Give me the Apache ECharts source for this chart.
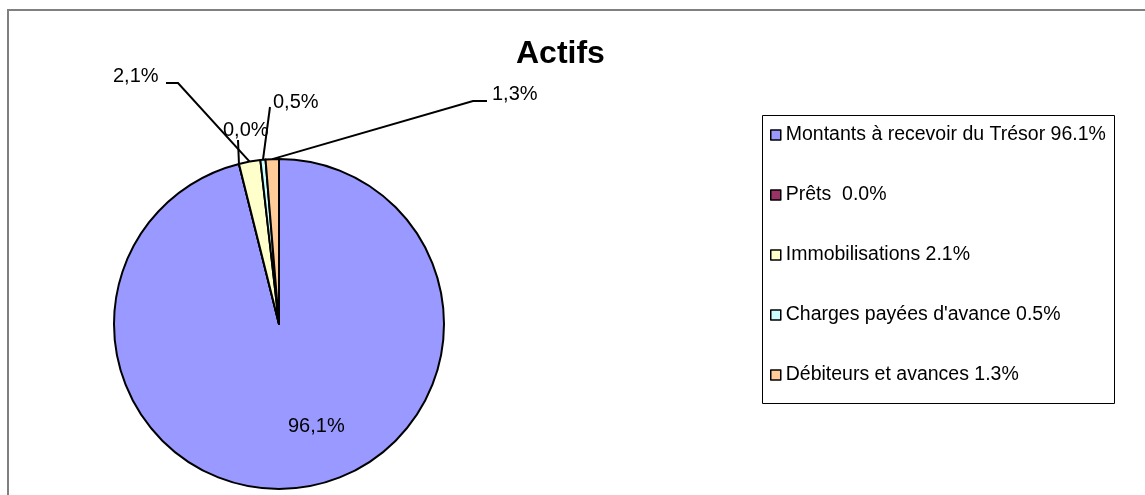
<!DOCTYPE html>
<html>
<head>
<meta charset="utf-8">
<script src="https://cdn.jsdelivr.net/npm/echarts@6/dist/echarts.min.js"></script>
<style>
  html, body { margin: 0; padding: 0; background: #fff; }
  #chart { width: 1145px; height: 495px; }
</style>
</head>
<body>
<div id="chart"></div>
<script>
// données du graphique (en %)
const categories = ['Montants à recevoir du Trésor', 'Prêts ', 'Immobilisations', "Charges payées d'avance", 'Débiteurs et avances']
const values = [96.1, 0.0, 2.1, 0.5, 1.3]
const colors = ['#9999FF', '#993366', '#FFFFCC', '#CCFFFF', '#FFCC99']

// emplacement des étiquettes (x gauche, y milieu) et coude éventuel de la ligne de rappel
const labelSpots = [
  { x: 288, y: 426 },
  { x: 223, y: 130, line: [[238, 140]] },
  { x: 113, y: 76, line: [[178, 83], [166, 83]] },
  { x: 273, y: 102, line: [[270, 107]] },
  { x: 492, y: 94, line: [[473, 101], [487, 101]] }
]

const fmt = v => v.toFixed(1).replace('.', ',') + '%'
const font = "'Liberation Sans', Arial, sans-serif"

const chart = echarts.init(document.getElementById('chart'))

chart.setOption({
  animation: false,
  title: {
    text: 'Actifs',
    left: 516,
    top: 38,
    padding: 0,
    textStyle: { fontFamily: font, fontSize: 32, fontWeight: 'bold', color: '#000' }
  },
  graphic: [
    // cadre extérieur
    { type: 'rect', shape: { x: 8, y: 10, width: 1150, height: 500 },
      style: { fill: 'none', stroke: '#808080', lineWidth: 2 }, silent: true },
    // boîte de la légende
    { type: 'rect', shape: { x: 762.5, y: 115.5, width: 352, height: 288 },
      style: { fill: '#fff', stroke: '#000', lineWidth: 1 }, silent: true, z: -1 }
  ],
  legend: {
    orient: 'vertical',
    left: 770,
    top: 125,
    padding: 0,
    itemWidth: 10,
    itemHeight: 10,
    itemGap: 40,
    icon: 'rect',
    itemStyle: { borderColor: '#000', borderWidth: 1.5 },
    textStyle: { fontFamily: font, fontSize: 19.5, lineHeight: 20, color: '#000' },
    formatter: name => name + ' ' + values[categories.indexOf(name)].toFixed(1) + '%',
    data: categories
  },
  series: [{
    type: 'pie',
    center: [279, 324],
    radius: 165,
    startAngle: 90,
    clockwise: true,
    avoidLabelOverlap: false,
    color: colors,
    itemStyle: { borderColor: '#000', borderWidth: 2 },
    label: {
      show: true,
      position: 'outside',
      fontFamily: font,
      fontSize: 20,
      color: '#000',
      formatter: p => fmt(p.value)
    },
    labelLine: { show: true, lineStyle: { color: '#000', width: 2 } },
    labelLayout: params => {
      const s = labelSpots[params.dataIndex]
      const out = { x: s.x, y: s.y, align: 'left', verticalAlign: 'middle' }
      if (s.line && params.labelLinePoints) {
        out.labelLinePoints = [params.labelLinePoints[0]].concat(s.line)
      }
      return out
    },
    data: categories.map((name, i) => {
      const item = { name, value: values[i] }
      if (i === 0) {
        item.label = { position: 'inside' }
        item.labelLine = { show: false }
      }
      return item
    })
  }]
})
</script>
</body>
</html>
